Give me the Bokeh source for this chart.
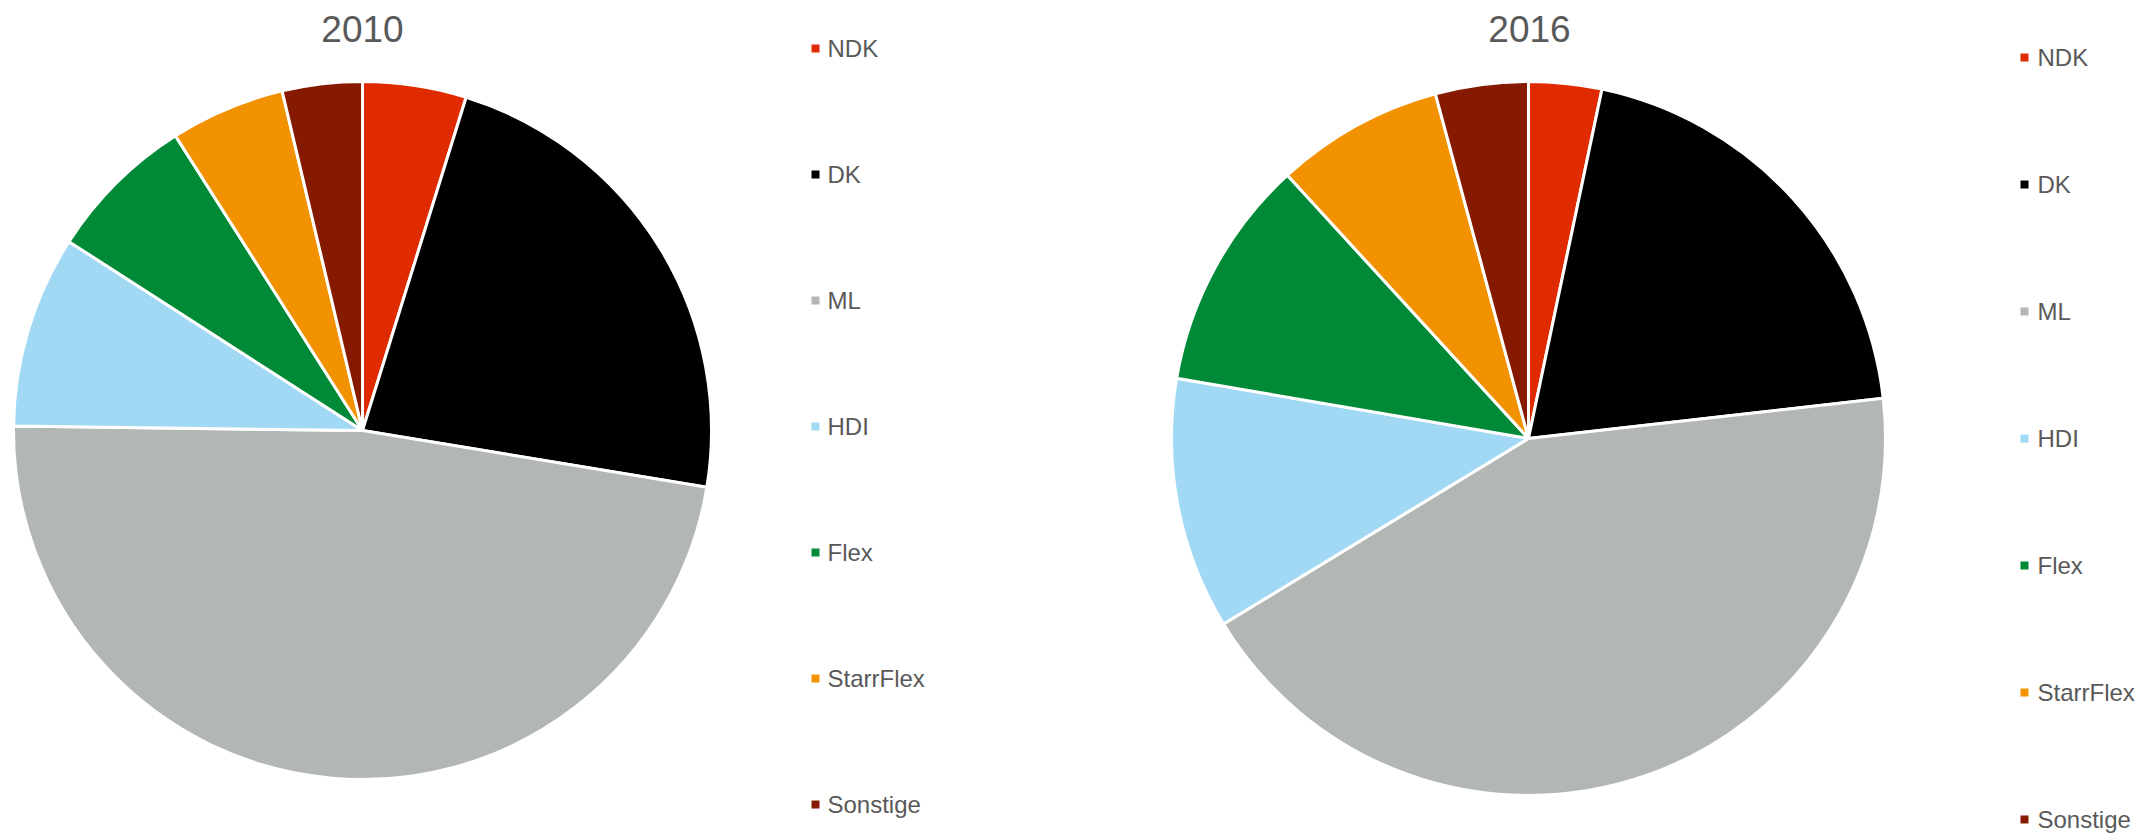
import math
from bokeh.plotting import figure
from bokeh.models import Range1d, ColumnDataSource
from bokeh.core.properties import value
from bokeh.embed import file_html
from bokeh.resources import INLINE

W, H = 2148, 837

categories = ["NDK", "DK", "ML", "HDI", "Flex", "StarrFlex", "Sonstige"]
colors = ["#E02B00", "#000000", "#B2B7B4", "#A1D9F5", "#008A37", "#F39200", "#851A00"]
titles = ["2010", "2016"]
share_2010 = [4.8, 22.8, 47.6, 8.9, 6.9, 5.3, 3.7]
share_2016 = [3.3, 19.9, 43.1, 11.4, 10.5, 7.6, 4.2]

p = figure(width=W, height=H, output_backend="svg", toolbar_location=None,
           x_range=Range1d(0, W), y_range=Range1d(0, H), min_border=0)
p.axis.visible = False
p.grid.visible = False
p.outline_line_color = None
p.background_fill_color = "white"
p.border_fill_color = "white"

# layout (pixel positions, top-down y converted)
pies = [
    dict(cx=362, cy=430, r=349, title_x=362, legend_x=815, legend_text_x=827, legend_y0=48, legend_dy=126),
    dict(cx=1528, cy=438, r=357, title_x=1529, legend_x=2024, legend_text_x=2037, legend_y0=57, legend_dy=127),
]

for data, title, lay in zip([share_2010, share_2016], titles, pies):
    total = sum(data)
    cum = 0.0
    starts, ends = [], []
    for v in data:
        a0 = math.pi / 2 - 2 * math.pi * cum / total
        cum += v
        a1 = math.pi / 2 - 2 * math.pi * cum / total
        starts.append(a0)
        ends.append(a1)
    src = ColumnDataSource(dict(start=starts, end=ends, color=colors, cat=categories))
    p.wedge(x=lay["cx"], y=H - lay["cy"], radius=lay["r"], start_angle="start", end_angle="end",
            direction="clock", fill_color="color", line_color="white", line_width=3, source=src)
    p.text(x=[lay["title_x"]], y=[H - 28], text=[title], text_align="center", text_baseline="middle",
           text_font=value("Liberation Sans"), text_font_size="37px", text_color="#595959")
    ly = [H - (lay["legend_y0"] + i * lay["legend_dy"]) for i in range(len(categories))]
    lsrc = ColumnDataSource(dict(x=[lay["legend_x"]] * len(categories), tx=[lay["legend_text_x"]] * len(categories),
                                 y=ly, color=colors, cat=categories))
    p.scatter(x="x", y="y", marker="square", size=8, fill_color="color", line_color=None, source=lsrc)
    p.text(x="tx", y="y", text="cat", text_align="left", text_baseline="middle",
           text_font=value("Liberation Sans"), text_font_size="24px", text_color="#595959", source=lsrc)

open("out.html", "w").write(file_html(p, INLINE))
